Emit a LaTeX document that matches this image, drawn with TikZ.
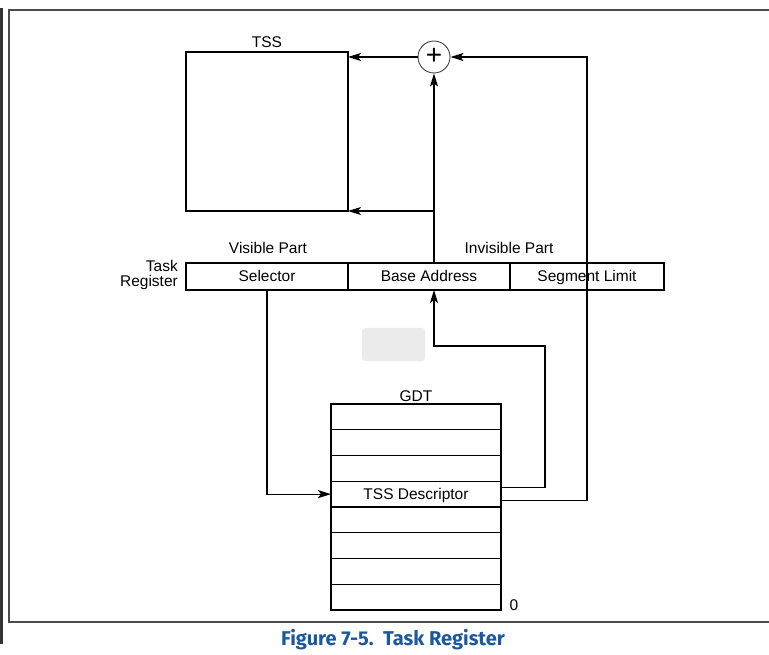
\documentclass[tikz,border=0pt]{standalone}
\usepackage{fontspec}
\setmainfont{Liberation Sans}
\newfontfamily\capfont{Fira Sans}
\usetikzlibrary{arrows.meta,calc}
\definecolor{capblue}{RGB}{28,88,160}
\tikzset{
  box/.style={draw, line width=1.1pt, inner sep=0pt, outer sep=0pt, anchor=north west},
  cell/.style={box, minimum width=162pt, minimum height=27pt, text height=12pt, text depth=2pt, font=\fontsize{15.5}{17}\selectfont},
  row/.style={box, minimum width=170pt, minimum height=25.75pt, font=\fontsize{15.5}{17}\selectfont},
  lbl/.style={font=\fontsize{15.5}{16}\selectfont, inner sep=0pt, text height=12pt, text depth=2pt},
  wire/.style={line width=1.1pt},
  arr/.style={wire, -{Stealth[length=13pt,width=8pt,inset=3pt]}},
}
\begin{document}
\begin{tikzpicture}[x=1pt,y=-1pt]
\useasboundingbox (0,0) rectangle (769,655);
% frame
\fill[black!80] (0,8) rectangle (3,644);
\draw[black!70, line width=2pt] (769,10) -- (9,10) -- (9,622) -- (769,622);
% zoom overlay
\fill[black!8, rounded corners=3pt] (362,328) rectangle (425,361);
% TSS
\node[box, minimum width=162pt, minimum height=159pt] (tss) at (186,52) {};
\node[lbl] (tsslbl) at (267,43) {TSS};
% adder
\node[draw=black!75, line width=0.9pt, circle, minimum size=32pt, inner sep=0pt, font=\fontsize{28}{28}\selectfont] (sum) at (434,57) {\raisebox{1.5pt}{+}};
% task register
\node[cell] (sel) at (186,263) {Selector};
\node[cell] (base) at (348,263) {Base Address};
\node[cell, minimum width=154pt] (lim) at (510,263) {Segment Limit};
\node[lbl] (vis) at (268,249) {Visible Part};
\node[lbl] (invis) at (509,249) {Invisible Part};
\node[anchor=east, align=right, inner sep=0pt, font=\fontsize{15.5}{15.5}\selectfont] (treg) at (178,275) {Task\\Register};
% GDT
\foreach \i in {1,...,8} {
  \node[row] (g\i) at (331,{404+(\i-1)*25.75}) {};
}
\node[lbl] (desc) at (g4) {TSS Descriptor};
\node[lbl] (gdtlbl) at (416,396) {GDT};
\node[lbl] (zero) at (514,605) {0};
% coordinates
\coordinate (c1) at (587,57);
\coordinate (c2) at (545,346);
\coordinate (c3) at (434,346);
\coordinate (c4) at (434,211);
% connectors
\draw[arr] (sum.west) -- (sum.west -| tss.east);
\draw[arr] ([yshift=-6.5pt]g4.east) -| (c1) -- (sum.east);
\draw[arr] ([yshift=6.5pt]g4.east) -| (c2) -- (c3) -- (c3 |- base.south);
\draw[arr] (c3 |- base.north) -- (sum.south);
\draw[arr] (c4) -- (tss.south east);
\draw[arr] (sel.south) |- (g4.west);
% caption
\node[font=\capfont\bfseries\fontsize{20}{22}\selectfont, text=capblue, inner sep=0pt] (cap) at (393,640) {Figure 7-5.\ \ Task Register};
\end{tikzpicture}
\end{document}
